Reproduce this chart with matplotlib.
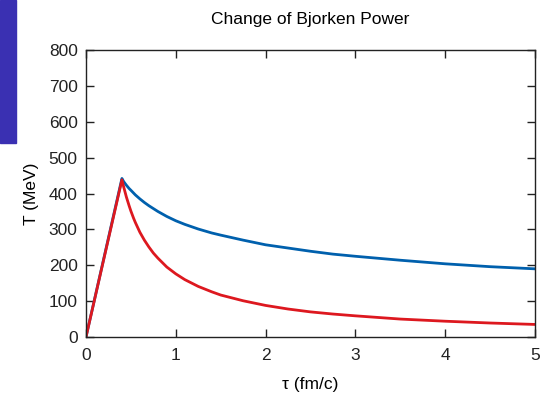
import numpy as np
import matplotlib
matplotlib.use("Agg")
import matplotlib.pyplot as plt
from matplotlib.patches import Rectangle

plt.rcParams['font.family'] = ['Liberation Sans', 'DejaVu Sans']

# proper time (fm/c) and temperature (MeV)
tau_blue = [0.0, 0.4, 0.42, 0.45, 0.48, 0.5, 0.55, 0.6, 0.65, 0.7, 0.8, 0.9, 1.0,
            1.1, 1.25, 1.4, 1.5, 1.75, 2.0, 2.25, 2.5, 2.75, 3.0, 3.5, 4.0, 4.5, 5.0]
T_blue = [0, 442, 433, 423, 414, 409, 396, 385, 375, 366, 350, 336, 324,
          314, 301, 290, 284, 270, 257, 248, 239, 231, 225, 214, 204, 196, 190]

tau_red = [0.0, 0.4, 0.42, 0.45, 0.48, 0.5, 0.53, 0.55, 0.6, 0.65, 0.7, 0.75, 0.8,
           0.9, 1.0, 1.1, 1.25, 1.4, 1.5, 1.75, 2.0, 2.25, 2.5, 2.75, 3.0, 3.5,
           4.0, 4.5, 5.0]
T_red = [0, 438, 418, 390, 366, 351, 331, 319, 292, 270, 251, 234, 220,
         195, 176, 160, 141, 126, 117, 101, 88, 78, 70, 64, 59, 50,
         44, 39, 35]

fig = plt.figure(figsize=(5.41, 3.98), dpi=100)
ax = fig.add_axes([86 / 541, 61 / 398, 449 / 541, 287 / 398])

# leftover slide bar in the corner
fig.add_artist(Rectangle((0, 1 - 143 / 398), 16 / 541, 143 / 398,
                         transform=fig.transFigure, color='#3a30b2', zorder=0))

ax.plot(tau_blue, T_blue, color='#0060ad', lw=2.0, solid_joinstyle='round')
ax.plot(tau_red, T_red, color='#dd181f', lw=2.0, solid_joinstyle='round')

ax.set_xlim(0, 5)
ax.set_ylim(0, 800)
ax.set_xticks(range(0, 6))
ax.set_yticks(range(0, 801, 100))
ax.tick_params(direction='in', length=6, width=1, top=True, right=True,
               labelsize=12.5, colors='#222222')
ax.tick_params(axis='x', pad=8)
ax.tick_params(axis='y', pad=6)
for s in ax.spines.values():
    s.set_linewidth(1)
    s.set_color('#222222')

ax.set_title('Change of Bjorken Power', fontsize=12.5, pad=19)
ax.set_xlabel('τ (fm/c)', fontsize=12.5, labelpad=10)
ax.set_ylabel('T (MeV)', fontsize=12.5, labelpad=7)

fig.savefig('out.png', dpi=100)
